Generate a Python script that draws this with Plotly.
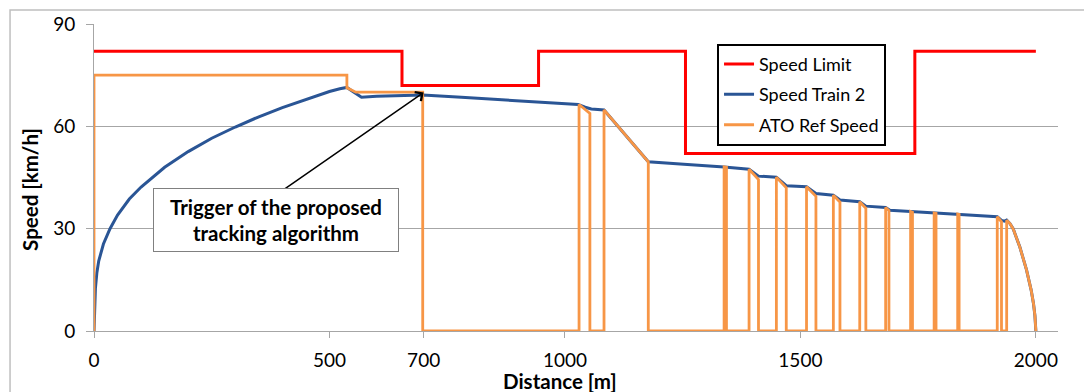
import plotly.graph_objects as go

# Speed limit profile along the line [m, km/h]
limit_x = [0, 654, 654, 944, 944, 1256, 1256, 1743, 1743, 2000]
limit_y = [82, 82, 72, 72, 82, 82, 52, 52, 82, 82]

# Measured speed of train 2 [m, km/h]
train_x = [0, 1, 3, 6, 10, 20, 34, 50, 75, 100, 150, 200, 250, 300, 350, 400,
           450, 500, 522, 537, 552, 568, 600, 650, 698, 780, 860, 940, 1028,
           1043, 1056, 1083, 1110, 1131, 1155, 1177, 1260, 1338, 1391, 1411,
           1449, 1470, 1513, 1533, 1570, 1584, 1626, 1639, 1681, 1690, 1734,
           1785, 1835, 1918, 1927, 1934, 1938, 1945, 1952, 1966, 1980, 1990,
           1995, 1998, 2000]
train_y = [0, 7, 12.5, 17, 20.5, 25.5, 30, 34, 38.7, 42.2, 48, 52.6, 56.5,
           59.8, 62.8, 65.5, 67.9, 70.2, 71.0, 71.4, 70.0, 68.5, 68.8, 69.0,
           69.2, 68.5, 67.8, 67.1, 66.4, 65.6, 65.1, 64.8, 60.5, 57.1, 53.1,
           49.6, 48.8, 48.1, 47.4, 45.4, 45.1, 42.6, 42.3, 40.3, 39.8, 38.4,
           37.9, 36.6, 36.2, 35.4, 35.0, 34.6, 34.3, 33.5, 32.4, 32.2, 32.5,
           31.5, 29.9, 24.6, 18.0, 12.0, 8.0, 4.5, 0]

# ATO reference speed [m, km/h]
ato_x = [0, 0, 537, 537, 556, 698, 698, 1030, 1030, 1053, 1053, 1083, 1083,
         1110, 1131, 1155, 1177, 1177, 1338, 1338, 1343, 1343, 1391, 1391,
         1411, 1411, 1449, 1449, 1470, 1470, 1513, 1513, 1533, 1533, 1570,
         1570, 1584, 1584, 1626, 1626, 1639, 1639, 1681, 1681, 1688, 1688,
         1734, 1734, 1738, 1738, 1784, 1784, 1788, 1788, 1834, 1834, 1837,
         1837, 1918, 1918, 1927, 1927, 1938, 1938, 1945, 1952, 1966, 1980,
         1990, 1995, 1998, 2000]
ato_y = [0, 75, 75, 71.3, 70.0, 70.0, 0, 0, 66.4, 63.8, 0, 0, 64.8, 60.5,
         57.1, 53.1, 49.6, 0, 0, 48.1, 48.0, 0, 0, 47.4, 44.4, 0, 0, 45.1,
         42.0, 0, 0, 42.3, 39.5, 0, 0, 39.8, 37.8, 0, 0, 37.9, 36.0, 0, 0,
         36.2, 35.3, 0, 0, 35.0, 34.8, 0, 0, 34.6, 34.5, 0, 0, 34.3, 34.2, 0,
         0, 33.5, 32.0, 0, 0, 32.5, 31.5, 29.9, 24.6, 18.0, 12.0, 8.0, 4.5, 0]

x_ticks = [0, 500, 700, 1000, 1500, 2000]
y_ticks = [0, 30, 60, 90]

trigger_x = 700
trigger_y = 69.9

FONT = "Lato"
AXIS_GREY = "#A6A6A6"

fig = go.Figure()
fig.add_trace(go.Scatter(x=limit_x, y=limit_y, mode="lines", name="Speed Limit",
                         legendgroup="a", line=dict(color="#FF0000", width=3)))
fig.add_trace(go.Scatter(x=train_x, y=train_y, mode="lines", name="Speed Train 2",
                         legendgroup="b", line=dict(color="#2A5595", width=3)))
fig.add_trace(go.Scatter(x=ato_x, y=ato_y, mode="lines", name="ATO Ref Speed",
                         legendgroup="c", line=dict(color="#F79646", width=2.8)))

fig.update_layout(
    width=1084, height=392,
    margin=dict(l=94, r=26, t=22, b=61),
    paper_bgcolor="white", plot_bgcolor="white",
    font=dict(family=FONT, color="black"),
    showlegend=True,
    legend=dict(x=0.6463, y=0.9356, xanchor="left", yanchor="top",
                bgcolor="white", bordercolor="black", borderwidth=2,
                font=dict(family=FONT, size=18, color="black"),
                itemwidth=30, traceorder="grouped", tracegroupgap=4),
    xaxis=dict(range=[0, 2047], tickmode="array", tickvals=x_ticks,
               ticktext=[str(v) for v in x_ticks], showgrid=False,
               zeroline=False, showline=True, linecolor=AXIS_GREY, linewidth=1,
               ticks="outside", ticklen=6, tickcolor=AXIS_GREY,
               tickfont=dict(family=FONT, size=19, color="black"),
               ticklabelstandoff=6),
    yaxis=dict(range=[0, 90], tickmode="array", tickvals=y_ticks,
               showgrid=True, gridcolor=AXIS_GREY, gridwidth=1,
               zeroline=False, showline=True, linecolor=AXIS_GREY, linewidth=1,
               ticks="outside", ticklen=7, tickcolor=AXIS_GREY,
               tickfont=dict(family=FONT, size=19, color="black"),
               ticklabelstandoff=7),
)

# Outer chart frame
fig.add_shape(type="rect", xref="paper", yref="paper",
              x0=-0.0871, x1=1.2, y0=-0.3, y1=1.0453,
              line=dict(color="#BFBFBF", width=1.5), fillcolor="rgba(0,0,0,0)",
              layer="below")

# Axis titles
fig.add_annotation(text="<b>Speed [km/h]</b>", xref="paper", yref="paper",
                   x=-0.0664, y=0.4628, textangle=-90, showarrow=False,
                   xanchor="center", yanchor="middle",
                   font=dict(family=FONT, size=20.5, color="black"))
fig.add_annotation(text="<b>Distance [m]</b>", xref="paper", yref="paper",
                   x=0.4834, y=-0.1618, showarrow=False,
                   xanchor="center", yanchor="middle",
                   font=dict(family=FONT, size=20.5, color="black"))

# Arrow pointing to the trigger point
fig.add_annotation(x=trigger_x, y=trigger_y, xref="x", yref="y", text="",
                   showarrow=True, ax=-140, ay=97, arrowhead=4, arrowsize=1.4,
                   arrowwidth=1.5, arrowcolor="black", standoff=0)

# Callout box
fig.add_annotation(x=386, y=32.5, xref="x", yref="y",
                   text="<b>Trigger of the proposed<br>tracking algorithm</b>",
                   showarrow=False, xanchor="center", yanchor="middle",
                   width=240, height=58, borderpad=2, borderwidth=1,
                   bordercolor="#808080", bgcolor="white",
                   font=dict(family=FONT, size=20.5, color="black"))

fig.write_html("out.html")
